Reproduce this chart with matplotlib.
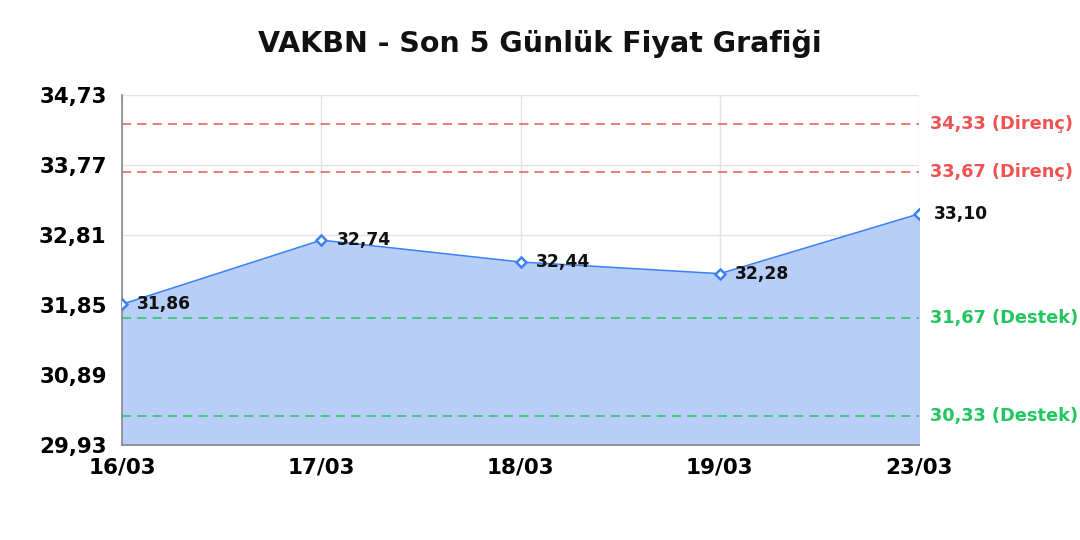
import matplotlib
matplotlib.use("Agg")
import matplotlib.pyplot as plt

# --- DATA ---
dates = ["16/03", "17/03", "18/03", "19/03", "23/03"]
prices = [31.86, 32.74, 32.44, 32.28, 33.10]
resistance = [34.33, 33.67]
support = [31.67, 30.33]
y_ticks = [29.93, 30.89, 31.85, 32.81, 33.77, 34.73]

LINE = "#3b82f6"
FILL = "#b6cef8"
RED = "#f05252"
GREEN = "#22c55e"


def fmt(v):
    return f"{v:.2f}".replace(".", ",")


fig = plt.figure(figsize=(10.8, 5.4), dpi=100)
ax = fig.add_axes([122 / 1080, 1 - 445 / 540, (919 - 122) / 1080, (445 - 95) / 540])

x = list(range(len(dates)))
ymin, ymax = y_ticks[0], y_ticks[-1]

ax.fill_between(x, prices, ymin, color=FILL, zorder=1)
ax.plot(x, prices, color=LINE, lw=1.1, zorder=3)
ax.plot(x, prices, ls="none", marker="D", ms=5.5, mfc="white", mec=LINE, mew=1.8, zorder=4)

for xi, p in zip(x, prices):
    ax.annotate(fmt(p), (xi, p), xytext=(11, 0), textcoords="offset points",
                va="center", ha="left", fontsize=12.3, fontweight="bold", color="#111111", zorder=5)

for r in resistance:
    ax.axhline(r, color=RED, ls=(0, (6, 4)), lw=1.1, zorder=2)
    ax.annotate(f"{fmt(r)} (Direnç)", (1, r), xycoords=("axes fraction", "data"),
                xytext=(8, 0), textcoords="offset points", va="center", ha="left",
                fontsize=12.8, fontweight="bold", color=RED)
for s in support:
    ax.axhline(s, color=GREEN, ls=(0, (6, 4)), lw=1.1, zorder=2)
    ax.annotate(f"{fmt(s)} (Destek)", (1, s), xycoords=("axes fraction", "data"),
                xytext=(8, 0), textcoords="offset points", va="center", ha="left",
                fontsize=12.8, fontweight="bold", color=GREEN)

ax.set_xlim(0, len(dates) - 1)
ax.set_ylim(ymin, ymax)
ax.set_xticks(x)
ax.set_xticklabels(dates, fontsize=15.5, fontweight="bold")
ax.set_yticks(y_ticks)
ax.set_yticklabels([fmt(t) for t in y_ticks], fontsize=15.4, fontweight="bold")
ax.tick_params(length=0)
ax.tick_params(axis="y", pad=11)
ax.tick_params(axis="x", pad=9)

ax.grid(True, color="#e3e3e3", lw=1, zorder=0)
ax.set_axisbelow(True)
for side in ["top", "right"]:
    ax.spines[side].set_visible(False)
for side in ["left", "bottom"]:
    ax.spines[side].set_color("#888888")
    ax.spines[side].set_linewidth(1.2)

fig.text(0.5, 1 - 44 / 540, "VAKBN - Son 5 Günlük Fiyat Grafiği", ha="center", va="center",
         fontsize=20.5, fontweight="bold", color="#111111")

fig.savefig("out.png", dpi=100)
